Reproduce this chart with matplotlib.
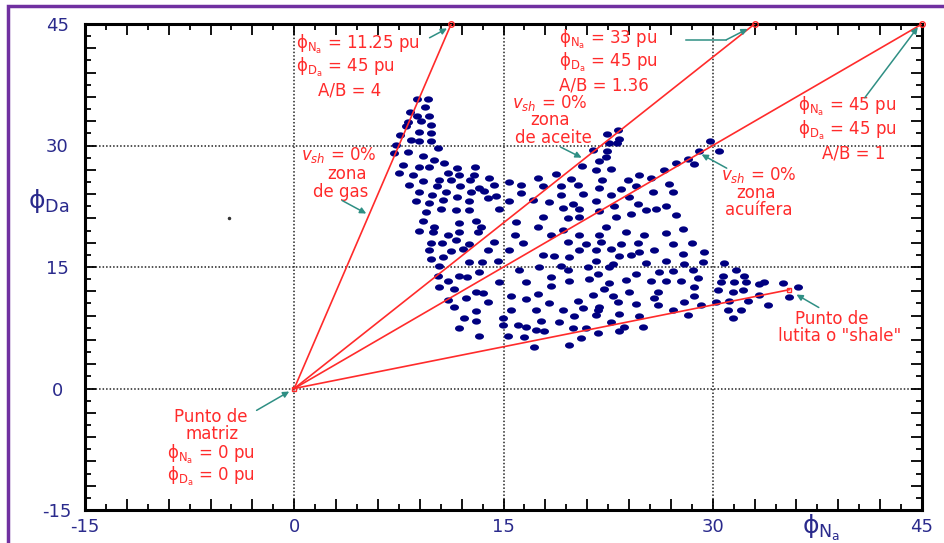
import matplotlib
matplotlib.use("Agg")
import matplotlib.pyplot as plt
from matplotlib.ticker import MultipleLocator, FuncFormatter
from matplotlib.patches import Rectangle
import numpy as np

plt.rcParams['font.family'] = ['DejaVu Sans']
plt.rcParams['mathtext.fontset'] = 'dejavusans'

# ---------------- data ----------------
# scatter of apparent neutron (x) / density (y) porosity readings, pu
NA = [8.77, 9.56, 9.39, 8.32, 8.77, 9.68, 8.12, 9.08, 9.80, 8.0, 8.96, 9.8, 7.57, 8.36, 8.96, 9.8,
      7.29, 10.27, 8.12, 7.17, 9.2, 10.04, 7.77, 10.75, 8.91, 9.68, 11.64, 12.97, 7.53, 8.48, 10.99,
      11.83, 12.9, 9.2, 10.35, 11.23, 12.59, 13.98, 8.2, 10.2, 11.9, 13.26, 14.34, 15.41, 16.25, 8.91,
      9.87, 10.87, 12.66, 13.62, 11.64, 14.46, 16.25, 8.72, 9.68, 10.68, 12.54, 13.86, 15.41, 9.44,
      10.51, 11.59, 12.54, 14.7,
      # lower-left block
      9.2, 11.83, 13.02, 10.04, 13.38, 8.91, 9.92, 10.99, 11.83, 13.14, 15.89, 15.84, 9.8, 10.59,
      11.59, 12.54, 14.34, 16.42, 9.68, 11.23, 12.07, 13.86, 15.41, 9.8, 10.68, 12.54, 13.45, 14.58,
      10.39, 10.27, 10.99, 11.78, 12.35, 13.26, 14.7, 16.13, 16.61, 10.39, 11.47, 13.02, 13.5, 15.53,
      16.61, 10.99, 12.31, 13.86, 11.47, 13.02, 15.53, 12.19, 13.02, 14.93, 14.93, 16.01, 16.61,
      11.83, 13.26, 15.29, 16.49,
      # upper-middle block
      23.18, 22.39, 23.3, 22.58, 23.11, 21.44, 22.39, 22.35, 21.87, 20.63, 22.7, 21.63, 18.76, 17.45,
      19.84, 22.06, 23.9, 27.36, 26.53, 24.74, 25.57, 17.81, 19.12, 20.31, 21.82, 23.42, 24.5, 26.89,
      19.12, 20.67, 22.7, 24.02, 25.69, 27.12, 17.09, 18.28, 19.96, 21.63, 22.94, 24.62, 26.65, 19.24,
      20.43, 21.87, 25.21, 25.93, 17.81, 19.6, 20.43, 23.06, 24.14, 27.36,
      # near the water line
      28.2, 28.68, 29.03, 29.8, 30.47,
      # lower-middle block
      17.45, 19.24, 22.35, 18.4, 20.43, 21.87, 23.78, 25.09, 26.65, 19.6, 20.91, 21.99, 23.42, 24.62,
      27.12, 20.43, 21.63, 22.7, 24.14, 24.74, 25.81, 17.81, 18.64, 19.72, 23.3, 26.65, 21.63, 22.82,
      25.21, 17.57, 19.12, 21.03, 22.58, 19.6, 21.75, 24.5, 26.17, 27.12, 18.4, 21.15, 22.58, 23.78,
      25.57, 26.65, 19.72, 18.4, 17.45, 21.39, 22.23, 22.82, 24.02, 26.05, 20.31, 18.28, 23.18, 21.87,
      24.5, 25.81, 17.33, 19.24, 20.67, 21.75, 23.3, 26.05, 27.12, 21.63, 20.08, 24.74, 17.69, 19.0,
      22.7, 23.66, 24.97, 19.96, 20.91, 21.75, 23.3, 17.33, 17.93, 20.55, 19.72, 17.21,
      # right block
      27.84, 28.51, 29.39, 27.84, 29.27, 27.96, 30.83, 28.56, 31.66, 30.71, 32.26, 27.72, 28.91,
      30.59, 31.54, 32.38, 33.69, 33.33, 35.01, 28.68, 30.35, 31.42, 32.14, 33.33, 36.08, 28.68,
      35.49, 27.96, 29.15, 30.23, 31.18, 32.5, 33.93, 28.2, 31.06, 32.02, 31.42]
DA = [35.8, 35.8, 34.8, 34.1, 33.7, 33.6, 32.9, 33.0, 32.5, 32.35, 31.7, 31.5, 31.3, 30.7, 30.5, 30.5,
      30.1, 29.7, 29.2, 29.05, 28.7, 28.2, 27.65, 27.8, 27.3, 27.4, 27.2, 27.3, 26.6, 26.4, 26.6,
      26.4, 26.3, 25.6, 25.7, 25.7, 25.7, 26.0, 25.1, 24.94, 24.94, 24.7, 25.1, 25.5, 25.1, 24.3,
      23.9, 24.3, 24.2, 24.4, 23.7, 23.8, 24.1, 23.1, 22.9, 23.3, 23.2, 23.5, 23.2, 21.8,
      22.2, 22.0, 22.0, 22.2,
      20.66, 20.41, 20.66, 19.92, 20.0, 19.42, 19.30, 19.01, 19.38, 19.30, 20.53, 18.89, 17.94, 17.94,
      18.35, 17.78, 18.07, 17.94, 17.04, 16.95, 17.24, 17.16, 17.04, 16.01, 16.21, 15.6, 15.6, 15.8,
      15.18, 13.95, 13.33, 13.83, 13.74, 14.36, 13.13, 14.57, 13.13, 12.51, 12.3, 11.89, 11.77, 11.36,
      11.07, 10.95, 11.19, 10.66, 10.12, 9.55, 9.71, 8.68, 8.39, 8.72, 7.78, 7.9, 7.65,
      7.45, 6.54, 6.54, 6.34,
      31.93, 31.44, 30.82, 30.33, 30.29, 29.46, 29.3, 28.64, 28.07, 27.53, 27.12, 26.92, 26.5, 26.01,
      25.88, 25.76, 25.76, 27.82, 27.0, 26.3, 26.01, 24.94, 24.94, 25.15, 24.73, 24.65, 25.06, 25.19,
      23.95, 24.03, 23.83, 23.62, 24.24, 24.24, 23.21, 23.0, 22.8, 23.13, 22.59, 22.72, 22.59, 22.3,
      22.18, 21.89, 22.06, 22.18, 21.15, 21.07, 21.15, 21.23, 21.56, 21.48,
      28.35, 27.74, 29.3, 30.54, 29.3,
      19.92, 19.59, 19.92, 19.01, 18.89, 19.01, 19.3, 19.01, 19.18, 18.07, 17.86, 18.07, 17.78, 17.94,
      17.78, 17.04, 17.12, 17.24, 16.42, 16.83, 17.04, 16.5, 16.3, 16.21, 16.3, 15.8, 15.8, 15.31,
      15.47, 15.06, 15.18, 14.98, 15.06, 14.57, 14.16, 14.16, 14.36, 14.49, 13.74, 13.54, 13.0, 13.41,
      13.25, 13.33, 13.25, 12.63, 11.69, 11.6, 12.3, 11.48, 11.89, 11.89, 10.78, 10.53, 10.66, 10.12,
      10.45, 11.19, 9.71, 9.71, 9.96, 9.63, 9.22, 10.25, 9.63, 9.13, 9.01, 9.01, 8.39, 8.19,
      8.19, 7.65, 7.57, 7.49, 7.49, 6.83, 7.16, 7.24, 7.16, 6.25, 5.31, 5.1,
      19.71, 17.94, 16.83, 16.63, 15.6, 15.39, 15.47, 14.57, 14.57, 13.95, 13.83, 13.33, 13.66,
      13.13, 13.13, 13.13, 13.13, 12.92, 13.0, 12.59, 12.18, 11.89, 12.1, 11.6, 12.51, 11.48,
      11.27, 10.66, 10.37, 10.66, 10.78, 10.78, 10.37, 9.13, 9.63, 9.71, 8.72]

# matrix point and end points of the reference lines
MATRIX = (0.0, 0.0)
LINE_END_NA = [11.25, 33.0, 45.0, 35.5]
LINE_END_DA = [45.0, 45.0, 45.0, 12.2]

GRID_VALUES = [0, 15, 30]
STRAY_DOT = (-4.66, 21.1)

RED = '#ff2b2b'
TEAL = '#2f8f84'
NAVY = '#000080'
LABEL_NAVY = '#2a2a8c'

# ---------------- figure ----------------
fig = plt.figure(figsize=(9.44, 5.43), dpi=100)
ax = fig.add_axes([85 / 944, 1 - 510 / 543, (922 - 85) / 944, (510 - 24) / 543])
ax.set_xlim(-15, 45)
ax.set_ylim(-15, 45)

for v in GRID_VALUES:
    ax.axvline(v, color='#222222', ls=(0, (1, 1.3)), lw=1.1, zorder=1)
    ax.axhline(v, color='#222222', ls=(0, (1, 1.3)), lw=1.1, zorder=1)

# ellipse-shaped marker
t = np.linspace(0, 2 * np.pi, 30)
ell = np.column_stack([np.cos(t), 0.7 * np.sin(t)])
ax.scatter(NA, DA, s=42, marker=ell, color=NAVY, linewidths=0, zorder=3)

# reference lines from matrix point
for xe, ye in zip(LINE_END_NA, LINE_END_DA):
    ax.plot([MATRIX[0], xe], [MATRIX[1], ye], color=RED, lw=1.2, zorder=4)
ax.plot(LINE_END_NA[:3], LINE_END_DA[:3], ls='none', marker='o', ms=4, mfc='none',
        mec=RED, mew=1, zorder=5, clip_on=False)
ax.plot([MATRIX[0], LINE_END_NA[3]], [MATRIX[1], LINE_END_DA[3]], ls='none', marker='s', ms=3.5,
        mfc='none', mec=RED, mew=1, zorder=5)
ax.plot([STRAY_DOT[0]], [STRAY_DOT[1]], ls='none', marker='o', ms=1.5, color='#333333')

# ---------------- annotations ----------------
FS = 12


def txt(x, y, s, ha='left'):
    ax.text(x, y, s, color=RED, fontsize=FS, ha=ha, va='center', zorder=6)


def arrow(x0, y0, x1, y1):
    ax.annotate('', xy=(x1, y1), xytext=(x0, y0),
                arrowprops=dict(arrowstyle='-|>', color=TEAL, lw=1.1, mutation_scale=9,
                                shrinkA=0, shrinkB=0), zorder=6, annotation_clip=False)


PNA = r'$\mathrm{\phi_{N_a}}$'
PDA = r'$\mathrm{\phi_{D_a}}$'
VSH = r'$v_{sh}$'

# gas line end point
txt(0.15, 42.5, PNA + ' = 11.25 pu')
txt(0.15, 39.6, PDA + ' = 45 pu')
txt(4.0, 36.8, 'A/B = 4', ha='center')
arrow(9.7, 43.3, 10.95, 44.45)

# gas zone
txt(3.2, 28.8, VSH + ' = 0%', ha='center')
txt(3.8, 26.5, 'zona', ha='center')
txt(3.3, 24.3, 'de gas', ha='center')
arrow(3.44, 23.2, 5.16, 21.6)

# oil line end point
txt(19.0, 43.1, PNA + ' = 33 pu')
txt(19.0, 40.2, PDA + ' = 45 pu')
txt(19.0, 37.4, 'A/B = 1.36')
ax.plot([28.1, 30.97], [43.05, 43.05], color=TEAL, lw=1.1, zorder=6)
arrow(30.97, 43.05, 32.5, 44.4)

# oil zone
txt(18.3, 35.3, VSH + ' = 0%', ha='center')
txt(18.3, 33.1, 'zona', ha='center')
txt(18.6, 30.9, 'de aceite', ha='center')
arrow(19.1, 29.8, 20.6, 28.5)

# water line end point
txt(36.1, 34.8, PNA + ' = 45 pu')
txt(36.1, 31.9, PDA + ' = 45 pu')
txt(40.1, 29.0, 'A/B = 1', ha='center')
arrow(40.9, 35.9, 44.7, 44.6)

# water zone
txt(33.3, 26.3, VSH + ' = 0%', ha='center')
txt(33.1, 24.1, 'zona', ha='center')
txt(33.3, 22.0, 'acuífera', ha='center')
arrow(31.0, 27.2, 29.2, 28.9)

# shale point
txt(38.5, 8.6, 'Punto de', ha='center')
txt(39.1, 6.5, 'lutita o "shale"', ha='center')
arrow(37.6, 10.0, 36.0, 11.6)

# matrix point
txt(-5.95, -3.5, 'Punto de', ha='center')
txt(-5.9, -5.6, 'matriz', ha='center')
txt(-5.95, -8.1, PNA + ' = 0 pu', ha='center')
txt(-5.95, -10.8, PDA + ' = 0 pu', ha='center')
arrow(-2.7, -2.7, -0.36, -0.37)

# ---------------- axes styling ----------------
fmt = FuncFormatter(lambda v, p: f'{int(round(v))}' if abs(v / 15 - round(v / 15)) < 1e-6 else '')
for axis in (ax.xaxis, ax.yaxis):
    axis.set_major_locator(MultipleLocator(3))
    axis.set_minor_locator(MultipleLocator(1.5))
    axis.set_major_formatter(fmt)

ax.tick_params(which='both', direction='in', top=True, right=True, color='black', width=1.3)
ax.tick_params(which='major', length=8, labelsize=13, labelcolor=LABEL_NAVY)
ax.tick_params(which='minor', length=4)
ax.tick_params(axis='x', which='major', pad=6)
ax.tick_params(axis='y', which='major', pad=20)
for lab in ax.get_yticklabels():
    lab.set_horizontalalignment('center')

for sp in ax.spines.values():
    sp.set_linewidth(2.2)
    sp.set_color('black')

ax.annotate(r'$\mathrm{\phi_{N_a}}$', xy=(37.8, -0.036), xycoords=('data', 'axes fraction'),
            ha='center', va='center', fontsize=18, color=LABEL_NAVY, annotation_clip=False)
ax.annotate(r'$\mathrm{\phi_{Da}}$', xy=(-0.044, 23.2), xycoords=('axes fraction', 'data'),
            ha='center', va='center', fontsize=18, color=LABEL_NAVY, annotation_clip=False)

# purple slide frame (top and left edges visible)
fig.patches.append(Rectangle((8 / 944, -0.2), 1.3, 1 - 5.5 / 543 + 0.2, transform=fig.transFigure,
                             fill=False, ec='#7030a0', lw=2.5))

fig.savefig('out.png', dpi=100)
